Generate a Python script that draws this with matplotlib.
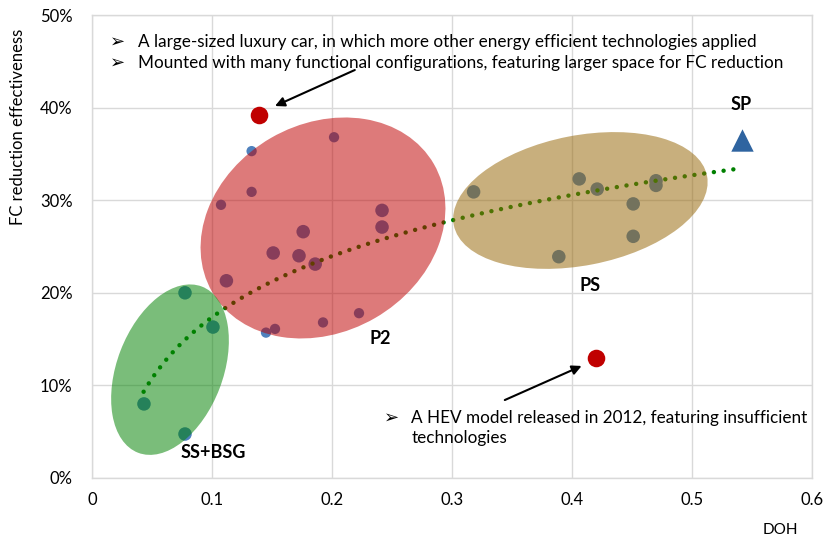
import numpy as np
import matplotlib
matplotlib.use("Agg")
import matplotlib.pyplot as plt
from matplotlib.patches import Ellipse
from matplotlib.transforms import Affine2D, ScaledTranslation

plt.rcParams['font.family'] = ['Lato', 'DejaVu Sans']

# P2 group
p2_x = [0.2017, 0.133, 0.1075, 0.2417, 0.2417, 0.176, 0.151, 0.1725, 0.186, 0.112, 0.2225, 0.1925, 0.1525, 0.133, 0.145]
p2_y = [0.368, 0.309, 0.295, 0.289, 0.271, 0.266, 0.243, 0.240, 0.231, 0.213, 0.178, 0.168, 0.161, 0.353, 0.157]
p2_big = [0, 0, 0, 1, 1, 1, 1, 1, 1, 1, 0, 0, 0, 0, 0]

# SS+BSG group
ss_x = [0.0775, 0.1008, 0.0433, 0.0775]
ss_y = [0.200, 0.163, 0.080, 0.0475]
ss_big = [1, 1, 1, 1]

# PS group
ps_x = [0.318, 0.406, 0.421, 0.470, 0.470, 0.451, 0.451, 0.389]
ps_y = [0.309, 0.323, 0.312, 0.321, 0.316, 0.296, 0.261, 0.239]
ps_big = [1, 1, 1, 1, 1, 1, 1, 1]

# outliers and SP
outlier_x = [0.139, 0.420]
outlier_y = [0.392, 0.130]
sp_x = [0.542]
sp_y = [0.365]

# log trendline: y = a + b*ln(x)
trend_a = 0.393
trend_b = 0.0953
trend_x0, trend_x1 = 0.043, 0.539

fig = plt.figure(figsize=(8.26, 5.45), dpi=100)
ax = fig.add_axes([92 / 826, 67 / 545, 720 / 826, 463 / 545])
ax.set_xlim(0, 0.6)
ax.set_ylim(0, 0.5)
ax.set_xticks([0, 0.1, 0.2, 0.3, 0.4, 0.5, 0.6])
ax.set_xticklabels(['0', '0.1', '0.2', '0.3', '0.4', '0.5', '0.6'])
ax.set_yticks([0, 0.1, 0.2, 0.3, 0.4, 0.5])
ax.set_yticklabels(['0%', '10%', '20%', '30%', '40%', '50%'])
ax.tick_params(axis='both', length=0, labelsize=12, colors='#000000')
ax.tick_params(axis='y', pad=14)
ax.tick_params(axis='x', pad=10)
ax.grid(True, color='#d9d9d9', linewidth=1)
ax.set_axisbelow(True)
for s in ax.spines.values():
    s.set_color('#d9d9d9')
    s.set_linewidth(1)

blue = '#4F81BD'
all_x = p2_x + ss_x + ps_x
all_y = p2_y + ss_y + ps_y
all_big = p2_big + ss_big + ps_big
sizes = [95 if b else 55 for b in all_big]
ax.scatter(all_x, all_y, s=sizes, color=blue, zorder=2, linewidths=0)

tx = np.linspace(trend_x0, trend_x1, 200)
ax.plot(tx, trend_a + trend_b * np.log(tx), color='#008000', linewidth=3.2,
        linestyle=(0, (0.01, 2.2)), dash_capstyle='round', zorder=2)


def blob(cx, cy, w, h, ang, color):
    tr = Affine2D() + ScaledTranslation(cx, cy, ax.transData)
    e = Ellipse((0, 0), w, h, angle=ang, transform=tr, facecolor=color,
                edgecolor='none', alpha=0.52, zorder=3)
    ax.add_patch(e)


blob(0.1925, 0.270, 256, 208, 30, (190 / 255, 0, 0))
blob(0.065, 0.117, 178, 106, 69, (0, 130 / 255, 0))
blob(0.407, 0.2997, 258, 130, 11, (150 / 255, 102 / 255, 6 / 255))

ax.scatter(outlier_x, outlier_y, s=160, color='#C00000', zorder=4, linewidths=0)
ax.scatter(sp_x, sp_y, s=260, marker='^', color='#2F64A0', zorder=4, linewidths=0)

bold = dict(fontsize=13, fontweight='bold', ha='center', va='center', zorder=5)
ax.text(0.541, 0.403, 'SP', **bold)
ax.text(0.415, 0.208, 'PS', **bold)
ax.text(0.240, 0.151, 'P2', **bold)
ax.text(0.101, 0.028, 'SS+BSG', **bold)

note = dict(fontsize=12.35, va='center', zorder=5)
bullet = dict(fontsize=13, va='center', ha='center', zorder=5, family=['DejaVu Sans'])
ax.text(0.0217, 0.471, '\u27a2', **bullet)
ax.text(0.0217, 0.448, '\u27a2', **bullet)
ax.text(0.0383, 0.471, 'A large-sized luxury car, in which more other energy efficient technologies applied', **note)
ax.text(0.0383, 0.448, 'Mounted with many functional configurations, featuring larger space for FC reduction', **note)
ax.text(0.250, 0.0648, '\u27a2', **bullet)
ax.text(0.266, 0.0648, 'A HEV model released in 2012, featuring insufficient', **note)
ax.text(0.266, 0.043, 'technologies', **note)

arrow = dict(arrowstyle='-|>', color='black', lw=1.5, mutation_scale=14,
             shrinkA=0, shrinkB=0)
ax.annotate('', xy=(0.1525, 0.4017), xytext=(0.219, 0.4406), arrowprops=arrow, zorder=5)
ax.annotate('', xy=(0.408, 0.121), xytext=(0.344, 0.0842), arrowprops=arrow, zorder=5)

fig.text(18 / 826, 1 - 127 / 545, 'FC reduction effectiveness', rotation=90,
         fontsize=12, ha='center', va='center')
fig.text(780 / 826, 1 - 530 / 545, 'DOH', fontsize=11, ha='center', va='center')

fig.savefig('out.png', dpi=100)
